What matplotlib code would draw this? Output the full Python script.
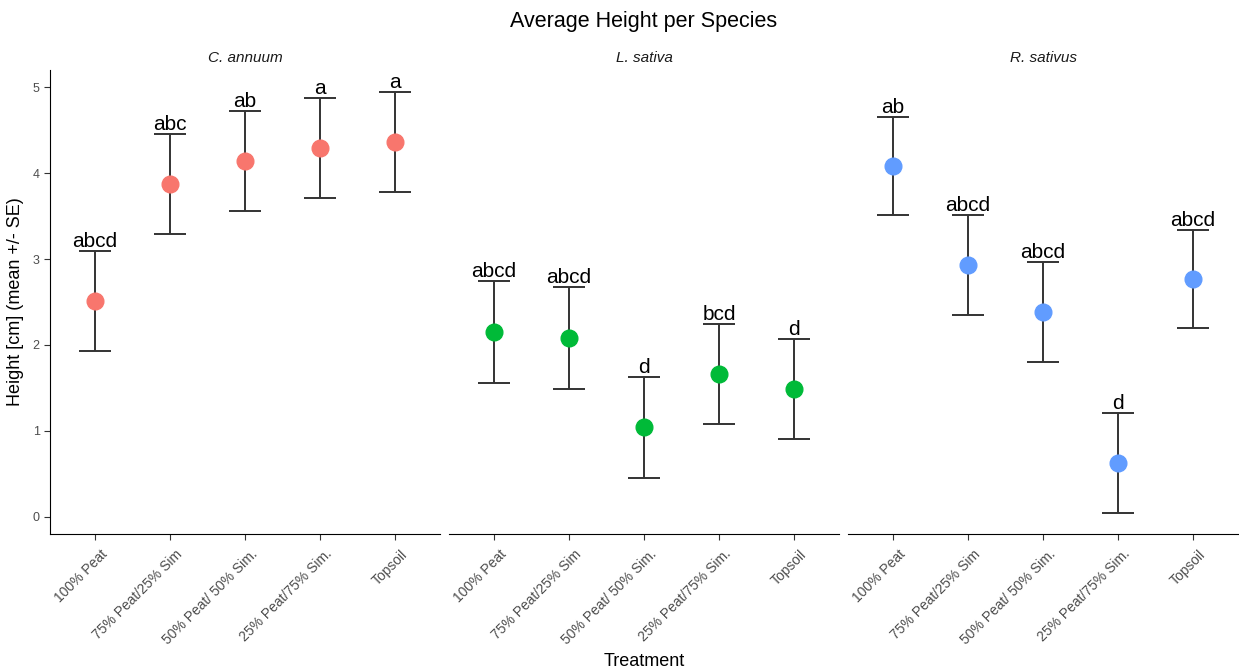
import numpy as np
import matplotlib.pyplot as plt
from matplotlib.transforms import ScaledTranslation

plt.rcParams['font.family'] = ['Liberation Sans', 'DejaVu Sans']

species = ["C. annuum", "L. sativa", "R. sativus"]
treatments = ["100% Peat", "75% Peat/25% Sim", "50% Peat/ 50% Sim.",
              "25% Peat/75% Sim.", "Topsoil"]
colors = ["#F8766D", "#00BA38", "#619CFF"]

# mean height per treatment, one list per species
mean_annuum = [2.51, 3.87, 4.14, 4.29, 4.36]
mean_sativa = [2.15, 2.08, 1.04, 1.66, 1.49]
mean_sativus = [4.08, 2.93, 2.38, 0.63, 2.77]

se_annuum = [0.58, 0.58, 0.58, 0.58, 0.58]
se_sativa = [0.59, 0.59, 0.59, 0.58, 0.58]
se_sativus = [0.57, 0.58, 0.58, 0.58, 0.57]

letters_annuum = ["abcd", "abc", "ab", "a", "a"]
letters_sativa = ["abcd", "abcd", "d", "bcd", "d"]
letters_sativus = ["ab", "abcd", "abcd", "d", "abcd"]

means = [mean_annuum, mean_sativa, mean_sativus]
ses = [se_annuum, se_sativa, se_sativus]
letters = [letters_annuum, letters_sativa, letters_sativus]

W, H = 1239, 671
fig = plt.figure(figsize=(W / 100, H / 100), dpi=100)

lefts = [50, 449, 848]
pw = 390
bottom, top = 534, 70
x = np.arange(1, len(treatments) + 1)
shift = ScaledTranslation(10 / 100, 0, fig.dpi_scale_trans)

for i, sp in enumerate(species):
    ax = fig.add_axes([lefts[i] / W, 1 - bottom / H, pw / W, (bottom - top) / H])
    m = np.array(means[i])
    s = np.array(ses[i])
    ax.errorbar(x, m, yerr=s, fmt='none', ecolor='#333333', elinewidth=1.4,
                capsize=11.5, capthick=1.4, zorder=2)
    ax.plot(x, m, 'o', color=colors[i], markersize=12, zorder=3)
    for xi, yi, lab in zip(x, m + s, letters[i]):
        ax.annotate(lab, (xi, yi), xytext=(0, 0), textcoords='offset points',
                    ha='center', va='bottom', fontsize=15, color='black')

    ax.set_xlim(0.4, 5.6)
    ax.set_ylim(-0.2, 5.2)
    ax.set_xticks(x)
    ax.tick_params(axis='x', length=4, color='#333333', pad=9)
    ax.set_xticklabels(treatments, rotation=45, ha='right', va='center',
                       rotation_mode='anchor', color='#4D4D4D', fontsize=10)
    # nudge the slanted labels so their ends sit right of the ticks
    for lbl in ax.get_xticklabels():
        lbl.set_transform(lbl.get_transform() + shift)
    for side in ['top', 'right']:
        ax.spines[side].set_visible(False)
    ax.spines['bottom'].set_color('black')
    if i == 0:
        ax.set_yticks(range(0, 6))
        ax.tick_params(axis='y', length=4, color='#333333', labelcolor='#4D4D4D',
                       labelsize=9)
        ax.spines['left'].set_color('black')
        ax.set_ylabel("Height [cm] (mean +/- SE)", fontsize=13, labelpad=6)
    else:
        ax.spines['left'].set_visible(False)
        ax.set_yticks([])
    ax.set_title(sp, style='italic', fontsize=11, color='#1A1A1A', pad=6)

fig.text((lefts[0] + lefts[2] + pw) / 2 / W, 1 - 662 / H, "Treatment",
         ha='center', va='center', fontsize=13)
fig.text((lefts[0] + lefts[2] + pw) / 2 / W, 1 - 21 / H, "Average Height per Species",
         ha='center', va='center', fontsize=15.5)

fig.savefig("out.png", dpi=100)
